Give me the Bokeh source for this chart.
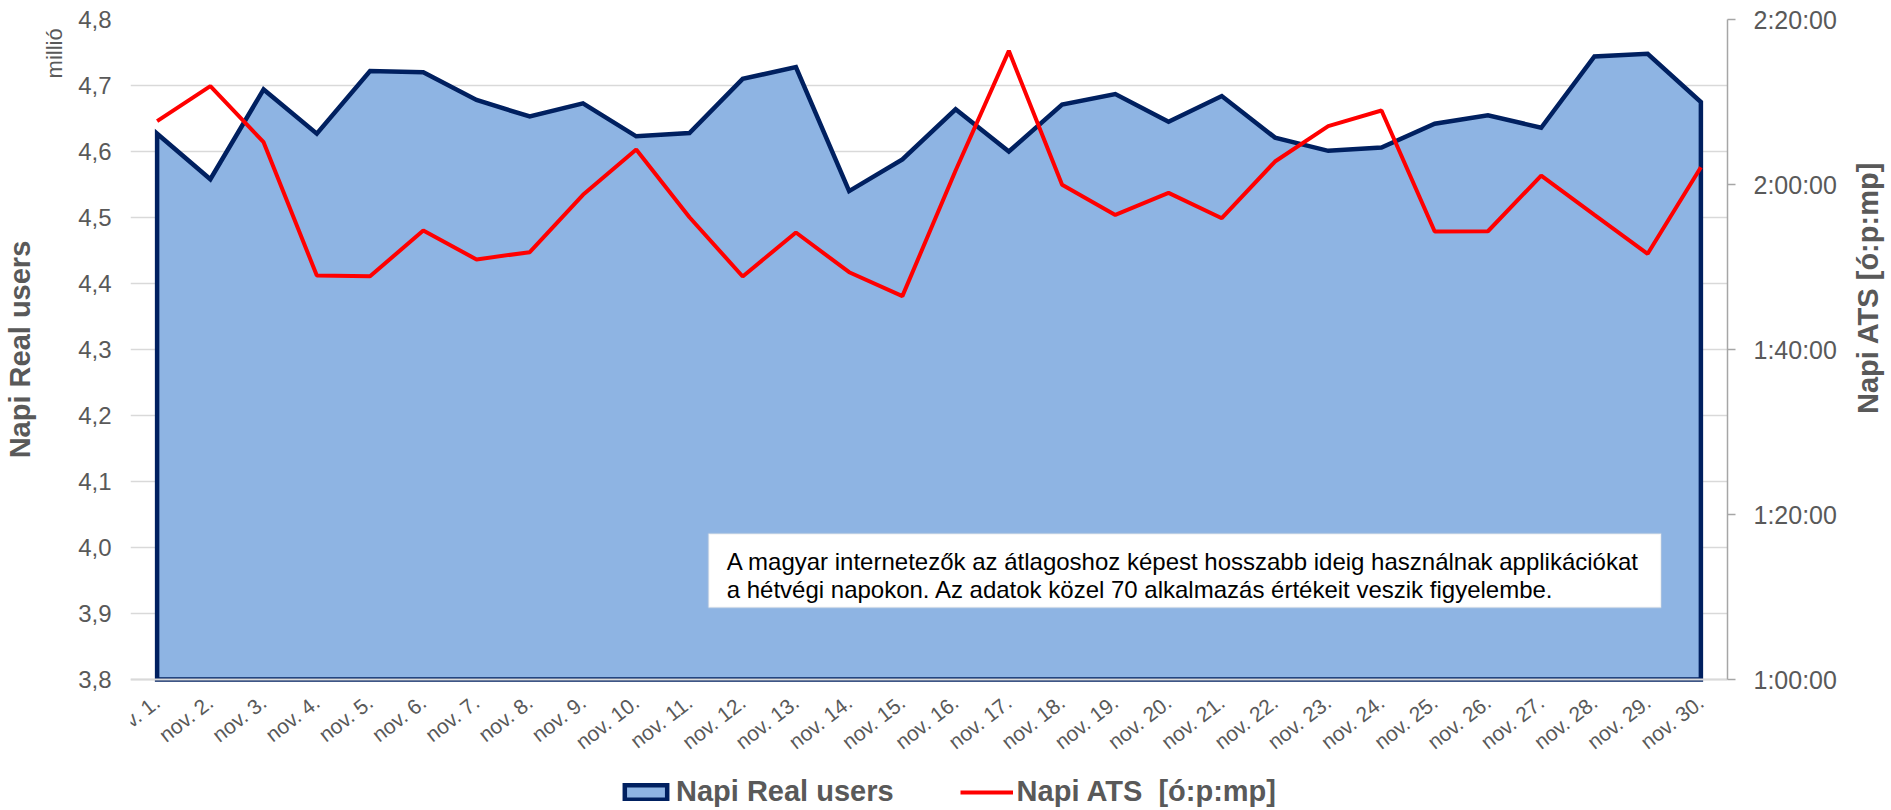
import math
from bokeh.plotting import figure
from bokeh.models import (Range1d, LinearAxis, FixedTicker, CustomJSTickFormatter,
                          Legend, LegendItem, Label, BoxAnnotation)
from bokeh.embed import file_html
from bokeh.resources import INLINE

days = [f"nov. {i}." for i in range(1, 31)]
real_users = [4.627, 4.558, 4.694, 4.627, 4.722, 4.720, 4.678, 4.653, 4.673, 4.623,
              4.628, 4.710, 4.728, 4.540, 4.588, 4.664, 4.600, 4.671, 4.687, 4.645,
              4.684, 4.621, 4.601, 4.606, 4.642, 4.655, 4.636, 4.744, 4.748, 4.675]
ats = ["2:07:41", "2:11:55", "2:05:08", "1:48:58", "1:48:53", "1:54:25", "1:50:55",
       "1:51:48", "1:58:45", "2:04:14", "1:56:02", "1:48:51", "1:54:11", "1:49:22",
       "1:46:28", "2:01:42", "2:16:12", "1:59:58", "1:56:19", "1:58:59", "1:55:55",
       "2:02:47", "2:07:04", "2:08:58", "1:54:18", "1:54:20", "2:01:05", "1:56:19",
       "1:51:36", "2:02:06"]
left_ticks = [3.8, 3.9, 4.0, 4.1, 4.2, 4.3, 4.4, 4.5, 4.6, 4.7, 4.8]
right_ticks_min = [60, 80, 100, 120, 140]
series_names = ["Napi Real users", "Napi ATS  [ó:p:mp]"]
axis_titles = ["Napi Real users", "Napi  ATS [ó:p:mp]"]
unit_label = "millió"
note_lines = ["A magyar internetezők az átlagoshoz képest hosszabb ideig használnak applikációkat",
              "a hétvégi napokon. Az adatok közel 70 alkalmazás értékeit veszik figyelembe."]


def to_min(s):
    h, m, sec = (int(v) for v in s.split(":"))
    return h * 60 + m + sec / 60.0


x = list(range(len(days)))
ats_min = [to_min(s) for s in ats]
base = left_ticks[0]

FONT = "Liberation Sans"
GREY = "#595959"
NB = "\u00a0"

PLOT_H = 660          # pixel height of the value region (3,8 .. 4,8)
FH = 789              # frame extends below the value region to hold the legend
extra = (FH - PLOT_H) / PLOT_H
y_lo = left_ticks[0] - extra * (left_ticks[-1] - left_ticks[0])
r_lo = right_ticks_min[0] - extra * (right_ticks_min[-1] - right_ticks_min[0])

p = figure(frame_width=1597, frame_height=FH, output_backend="svg", toolbar_location=None,
           x_range=Range1d(-0.5, len(days) - 0.5),
           y_range=Range1d(y_lo, left_ticks[-1]),
           y_axis_location=None,
           min_border_left=130, min_border_right=10, min_border_top=19,
           min_border_bottom=10, background_fill_color="white",
           border_fill_color="white", outline_line_color=None)
p.extra_y_ranges = {"ats": Range1d(r_lo, right_ticks_min[-1])}

# grid
p.xgrid.visible = False
p.ygrid.ticker = FixedTicker(ticks=left_ticks)
p.ygrid.grid_line_color = "#D9D9D9"
p.ygrid.grid_line_width = 1.5

# area
px = [x[0]] + x + [x[-1]]
py = [base] + real_users + [base]
area = p.patch(px, py, fill_color="#8EB4E3", line_color="#002060", line_width=4.5,
               line_join="miter")

# red line
red = p.line(x, ats_min, y_range_name="ats", line_color="#FF0000", line_width=4)


def bare_axis(ax):
    ax.axis_line_color = None
    ax.major_tick_line_color = None
    ax.minor_tick_line_color = None
    ax.major_tick_out = 0
    ax.major_tick_in = 0
    ax.minor_tick_out = 0
    ax.minor_tick_in = 0


# left axis with ticks
ya = LinearAxis(ticker=FixedTicker(ticks=left_ticks))
ya.formatter = CustomJSTickFormatter(code="return tick.toFixed(1).replace('.', ',');")
bare_axis(ya)
ya.major_label_standoff = 19
ya.major_label_text_font = FONT
ya.major_label_text_font_size = "24px"
ya.major_label_text_color = GREY
p.add_layout(ya, "left")

# unit label ("millió") near the top
ua = LinearAxis(ticker=FixedTicker(ticks=[]))
bare_axis(ua)
ua.major_label_standoff = 0
ua.axis_label = NB * 118 + unit_label
ua.axis_label_standoff = 9
ua.axis_label_text_font = FONT
ua.axis_label_text_font_size = "22px"
ua.axis_label_text_font_style = "normal"
ua.axis_label_text_color = GREY
p.add_layout(ua, "left")

# left title
ta = LinearAxis(ticker=FixedTicker(ticks=[]))
bare_axis(ta)
ta.major_label_standoff = 0
ta.axis_label = NB * 16 + axis_titles[0]
ta.axis_label_standoff = 3
ta.axis_label_text_font = FONT
ta.axis_label_text_font_size = "29px"
ta.axis_label_text_font_style = "bold"
ta.axis_label_text_color = GREY
p.add_layout(ta, "left")

# x axis, drawn at the 3,8 level
xa = p.xaxis[0]
xa.fixed_location = base
xa.ticker = FixedTicker(ticks=x)
xa.major_label_overrides = {i: d for i, d in zip(x, days)}
xa.major_label_orientation = 0.66
xa.axis_line_color = "#D9D9D9"
xa.axis_line_width = 2
xa.major_tick_line_color = None
xa.major_tick_out = 0
xa.major_tick_in = 0
xa.minor_tick_line_color = None
xa.minor_tick_out = 0
xa.major_label_standoff = 20
xa.major_label_text_font = FONT
xa.major_label_text_font_size = "21px"
xa.major_label_text_color = GREY

# right axis with ticks
ra = LinearAxis(y_range_name="ats", ticker=FixedTicker(ticks=right_ticks_min),
                bounds=(right_ticks_min[0], right_ticks_min[-1]))
ra.formatter = CustomJSTickFormatter(code="""
const t = Math.round(tick*60);
const h = Math.floor(t/3600), m = Math.floor((t%3600)/60), s = t%60;
return h + ':' + String(m).padStart(2,'0') + ':' + String(s).padStart(2,'0');
""")
ra.axis_line_color = "#A6A6A6"
ra.axis_line_width = 1.5
ra.major_tick_line_color = "#A6A6A6"
ra.major_tick_line_width = 1.5
ra.major_tick_out = 8
ra.major_tick_in = 0
ra.minor_tick_line_color = None
ra.minor_tick_out = 0
ra.major_label_standoff = 18
ra.major_label_text_font = FONT
ra.major_label_text_font_size = "25px"
ra.major_label_text_color = GREY
p.add_layout(ra, "right")

# right title (reads bottom-to-top)
rt = LinearAxis(y_range_name="ats", ticker=FixedTicker(ticks=[]))
bare_axis(rt)
rt.major_label_standoff = 0
rt.axis_label = axis_titles[1]
rt.axis_label_standoff = 28
rt.axis_label_text_font = FONT
rt.axis_label_text_font_size = "29px"
rt.axis_label_text_font_style = "bold"
rt.axis_label_text_color = GREY
if "axis_label_orientation" in rt.properties():
    rt.axis_label_orientation = math.pi / 2
p.add_layout(rt, "right")

# note box
p.add_layout(BoxAnnotation(left=10.36, right=28.25, top=4.021, bottom=3.909,
                           fill_color="white", fill_alpha=1.0,
                           line_color="#D9D9D9", line_width=2))
p.add_layout(Label(x=10.70, y=3.979, text=note_lines[0], text_align="left",
                   text_baseline="middle", text_font=FONT, text_font_size="24px",
                   text_color="black"))
p.add_layout(Label(x=10.70, y=3.937, text=note_lines[1], text_align="left",
                   text_baseline="middle", text_font=FONT, text_font_size="24px",
                   text_color="black"))

# legend, placed in the lower strip of the frame
legend = Legend(items=[LegendItem(label=series_names[0], renderers=[area]),
                       LegendItem(label=series_names[1], renderers=[red])],
                orientation="horizontal", location=(489, 0),
                padding=0, margin=0, spacing=66, label_standoff=4,
                glyph_width=53, glyph_height=18,
                border_line_color=None, background_fill_alpha=0,
                label_text_font=FONT, label_text_font_size="29px",
                label_text_font_style="bold", label_text_color=GREY)
p.add_layout(legend, "center")

open("out.html", "w").write(file_html(p, INLINE))
